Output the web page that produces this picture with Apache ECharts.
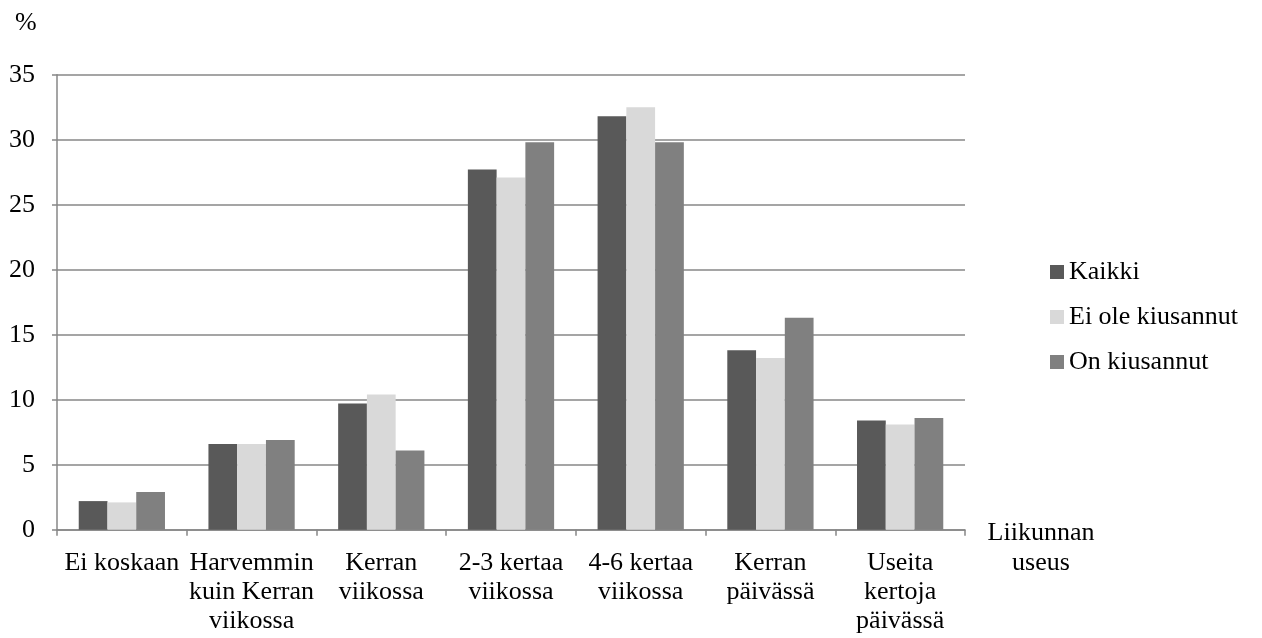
<!DOCTYPE html>
<html>
<head>
<meta charset="utf-8">
<script src="https://cdn.jsdelivr.net/npm/echarts@6/dist/echarts.min.js"></script>
<style>
  html, body { margin: 0; padding: 0; background: #fff; }
  #chart { width: 1262px; height: 638px; }
</style>
</head>
<body>
<div id="chart"></div>
<script>
// Liikunnan useus (%) by group
const categories = [
  'Ei koskaan',
  'Harvemmin\nkuin Kerran\nviikossa',
  'Kerran\nviikossa',
  '2-3 kertaa\nviikossa',
  '4-6 kertaa\nviikossa',
  'Kerran\npäivässä',
  'Useita\nkertoja\npäivässä'
];
const seriesNames = ['Kaikki', 'Ei ole kiusannut', 'On kiusannut'];
const kaikki = [2.2, 6.6, 9.7, 27.7, 31.8, 13.8, 8.4];
const eiOleKiusannut = [2.1, 6.6, 10.4, 27.1, 32.5, 13.2, 8.1];
const onKiusannut = [2.9, 6.9, 6.1, 29.8, 29.8, 16.3, 8.6];
const yTicks = { min: 0, max: 35, interval: 5 };
const yUnit = '%';
const xTitle = 'Liikunnan\nuseus';

const colors = ['#595959', '#d9d9d9', '#808080'];
const FONT = '"Liberation Serif", "Times New Roman", serif';
const gridColor = '#878787';

const chart = echarts.init(document.getElementById('chart'), null, { renderer: 'canvas' });

const values = [kaikki, eiOleKiusannut, onKiusannut];

chart.setOption({
  animation: false,
  backgroundColor: '#ffffff',
  textStyle: { fontFamily: FONT },
  grid: { left: 57, right: 297, top: 74.7, bottom: 108.3, containLabel: false },
  legend: {
    orient: 'vertical',
    left: 1050,
    top: 257,
    padding: 0,
    itemWidth: 14,
    itemHeight: 14,
    itemGap: 15,
    icon: 'rect',
    textStyle: { fontFamily: FONT, fontSize: 26, color: '#000', lineHeight: 30 },
    data: seriesNames
  },
  xAxis: {
    type: 'category',
    data: categories,
    axisLine: { show: true, lineStyle: { color: gridColor, width: 1.5 } },
    axisTick: { show: true, length: 6, alignWithLabel: false, lineStyle: { color: gridColor, width: 1.5 } },
    axisLabel: {
      interval: 0,
      margin: 19,
      color: '#000',
      fontFamily: FONT,
      fontSize: 26,
      lineHeight: 29,
      align: 'center'
    }
  },
  yAxis: {
    type: 'value',
    min: yTicks.min,
    max: yTicks.max,
    interval: yTicks.interval,
    axisLine: { show: true, lineStyle: { color: gridColor, width: 1.5 } },
    axisTick: { show: true, length: 5, lineStyle: { color: gridColor, width: 1.5 } },
    splitLine: { show: true, lineStyle: { color: gridColor, width: 1.5 } },
    axisLabel: { margin: 22, color: '#000', fontFamily: FONT, fontSize: 26 }
  },
  graphic: [
    {
      type: 'text',
      left: 15, top: 10,
      style: { text: yUnit, font: '26px ' + FONT, fill: '#000' }
    },
    {
      type: 'text',
      x: 1041, y: 548,
      style: {
        text: xTitle, font: '26px ' + FONT, fill: '#000',
        align: 'center', verticalAlign: 'middle', lineHeight: 30
      }
    }
  ],
  series: seriesNames.map((name, i) => ({
    name,
    type: 'bar',
    data: values[i],
    barGap: '0%',
    barCategoryGap: '33.5%',
    itemStyle: { color: colors[i] }
  }))
});
</script>
</body>
</html>
